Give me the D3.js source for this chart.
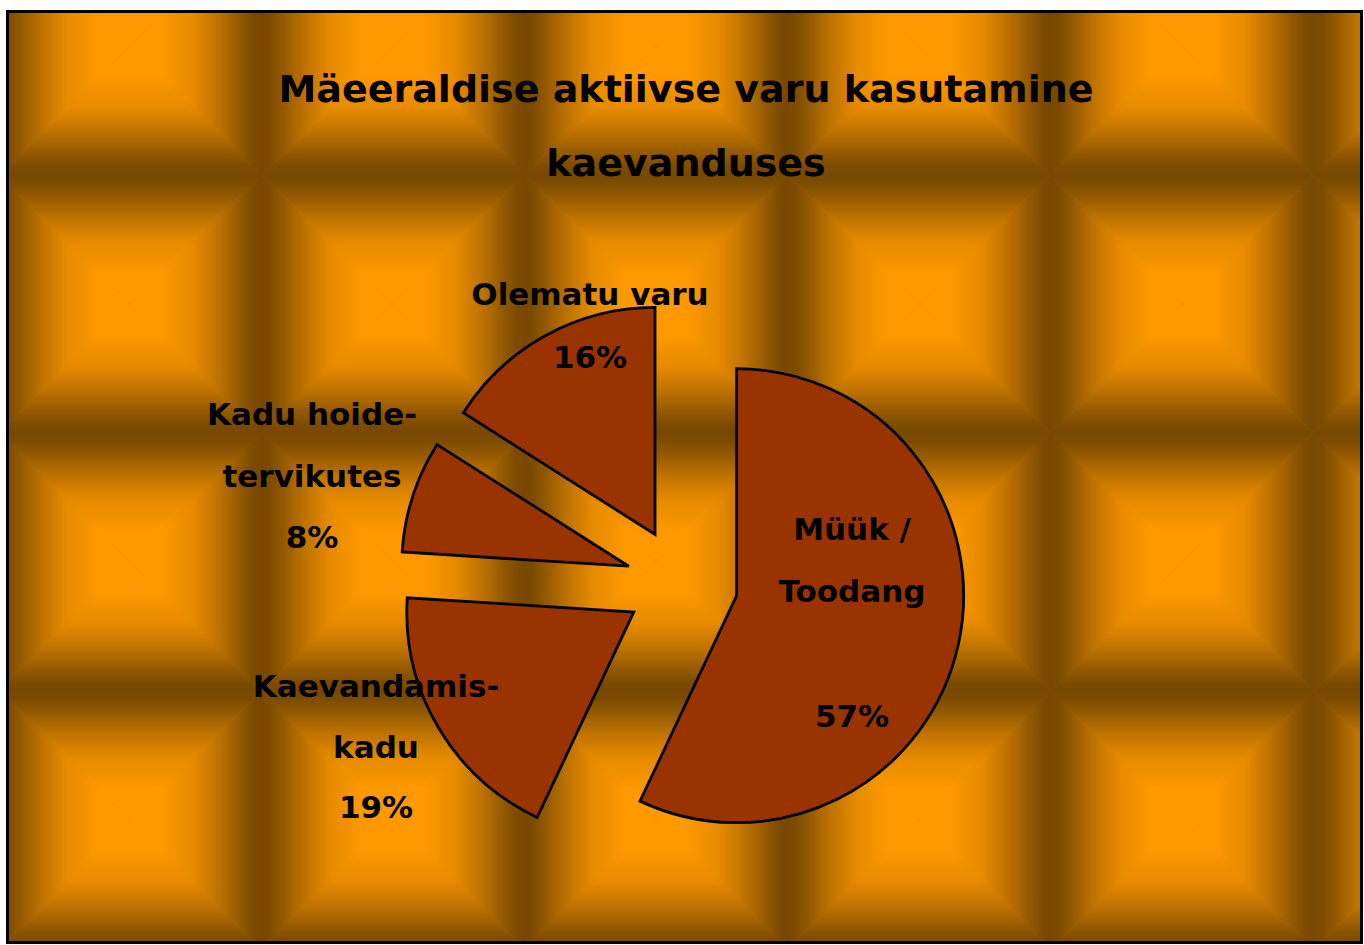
<!DOCTYPE html>
<html>
<head>
<meta charset="utf-8">
<script src="https://cdn.jsdelivr.net/npm/d3@7/dist/d3.min.js"></script>
<style>
  html, body { margin: 0; padding: 0; background: #ffffff; }
  svg { display: block; }
  text { font-family: "DejaVu Sans", "Verdana", sans-serif; font-weight: bold; fill: #000; }
</style>
</head>
<body>
<svg id="chart" width="1364" height="945"></svg>
<script>
// ---- data ----
const titleLines = ["Mäeeraldise aktiivse varu kasutamine", "kaevanduses"];
const categories = ["Müük / Toodang", "Kaevandamis-kadu", "Kadu hoide-tervikutes", "Olematu varu"];
const values = [57, 19, 8, 16];
const percentLabels = ["57%", "19%", "8%", "16%"];
// label line breaks (text only)
const labelLines = [
  ["Müük /", "Toodang", "", "57%"],
  ["Kaevandamis-", "kadu", "19%"],
  ["Kadu hoide-", "tervikutes", "8%"],
  ["Olematu varu", "16%"]
];

// ---- layout ----
const frame = { x: 7.5, y: 11.5, w: 1354, h: 931 };
const cx = 682, cy = 583.5, radius = 227, explode = 56;
const labelAnchors = [ // x centre, first baseline, line step
  { x: 852, y: 540, step: 62.3 },
  { x: 376, y: 697, step: 60.5 },
  { x: 312, y: 425, step: 61.5 },
  { x: 590, y: 305, step: 63 }
];
const tileW = 263, tileH = 258, tileX = -1.5, tileY = -83;
const dark = "#784800";
const sliceFill = "#993300";

const svg = d3.select("#chart");
const defs = svg.append("defs");

// rectangular "from centre" gradient tile built from 4 triangles
function grad(id, x1, y1, x2, y2) {
  const g = defs.append("linearGradient").attr("id", id)
    .attr("gradientUnits", "userSpaceOnUse")
    .attr("x1", x1).attr("y1", y1).attr("x2", x2).attr("y2", y2);
  [[0, "#ff9900"], [0.24, "#fd9800"], [0.48, "#e68a00"], [0.68, "#bc7100"], [0.84, "#925800"], [0.94, "#7c4b00"], [1, dark]]
    .forEach(([o, c]) => g.append("stop").attr("offset", o).attr("stop-color", c));
}
const hw = tileW / 2, hh = tileH / 2;
grad("gT", hw, hh, hw, 0);
grad("gB", hw, hh, hw, tileH);
grad("gL", hw, hh, 0, hh);
grad("gR", hw, hh, tileW, hh);
const pat = defs.append("pattern").attr("id", "tile")
  .attr("patternUnits", "userSpaceOnUse")
  .attr("x", tileX).attr("y", tileY)
  .attr("width", tileW).attr("height", tileH);
pat.append("rect").attr("width", tileW).attr("height", tileH).attr("fill", "#c07400");
const tris = [
  ["gT", [[0, 0], [tileW, 0], [hw, hh]]],
  ["gB", [[0, tileH], [tileW, tileH], [hw, hh]]],
  ["gL", [[0, 0], [0, tileH], [hw, hh]]],
  ["gR", [[tileW, 0], [tileW, tileH], [hw, hh]]]
];
tris.forEach(([id, pts]) => {
  pat.append("polygon").attr("points", pts.map(p => p.join(",")).join(" "))
    .attr("fill", `url(#${id})`).attr("stroke", `url(#${id})`).attr("stroke-width", 0.6);
});

// frame + background
svg.append("rect")
  .attr("x", frame.x).attr("y", frame.y).attr("width", frame.w).attr("height", frame.h)
  .attr("fill", "url(#tile)").attr("stroke", "#000").attr("stroke-width", 3);

// title
const title = svg.append("g");
titleLines.forEach((t, i) => {
  title.append("text")
    .attr("x", 686).attr("y", 102 + i * 74)
    .attr("text-anchor", "middle")
    .style("font-size", "38px")
    .text(t);
});

// pie
const pie = d3.pie().sort(null).value(d => d).startAngle(0).endAngle(2 * Math.PI);
const arc = d3.arc().innerRadius(0).outerRadius(radius);
const arcs = pie(values);
const g = svg.append("g").attr("transform", `translate(${cx},${cy})`);
g.selectAll("path").data(arcs).join("path")
  .attr("transform", d => {
    const m = (d.startAngle + d.endAngle) / 2;
    return `translate(${explode * Math.sin(m)},${-explode * Math.cos(m)})`;
  })
  .attr("d", arc)
  .attr("fill", sliceFill)
  .attr("stroke", "#000")
  .attr("stroke-width", 2.8)
  .attr("stroke-linejoin", "miter");

// labels
labelLines.forEach((lines, i) => {
  const a = labelAnchors[i];
  const t = svg.append("text")
    .attr("text-anchor", "middle")
    .style("font-size", "31px");
  lines.forEach((ln, j) => {
    if (ln === "") return;
    t.append("tspan").attr("x", a.x).attr("y", a.y + j * a.step).text(ln);
  });
});
</script>
</body>
</html>
